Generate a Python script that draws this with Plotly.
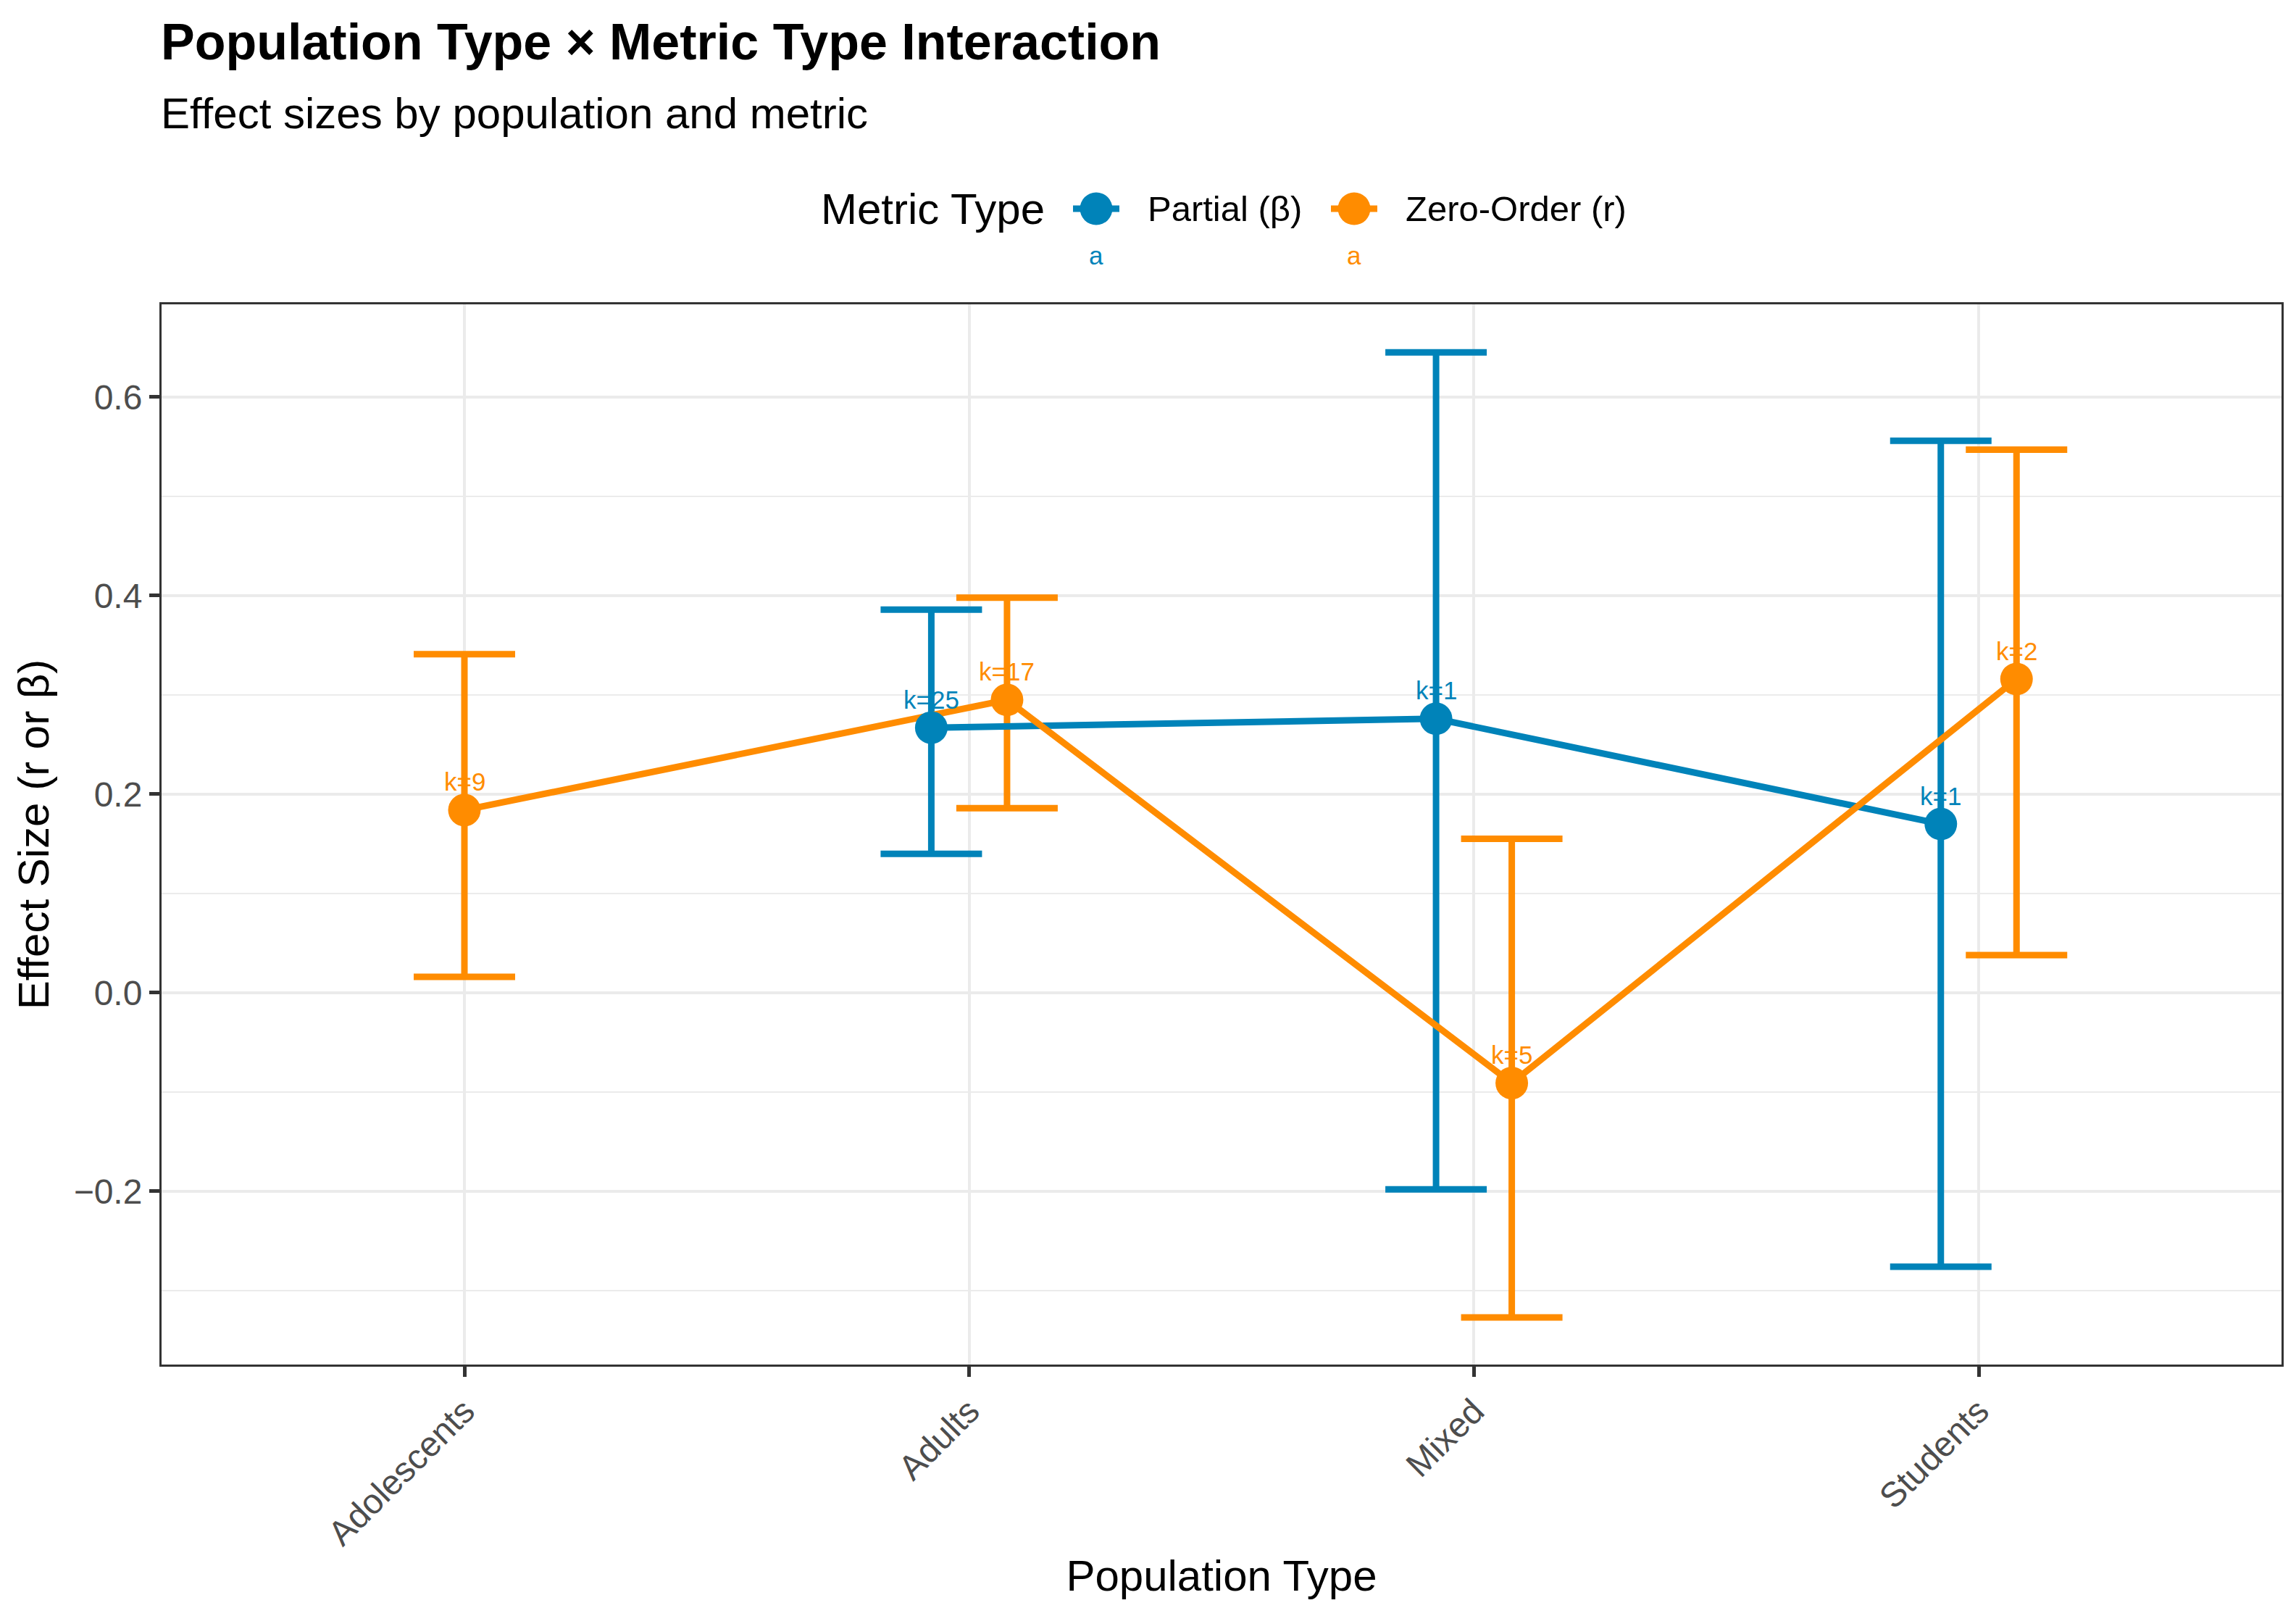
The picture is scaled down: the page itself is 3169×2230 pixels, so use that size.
import plotly.graph_objects as go

# ---------------- data ----------------
populations = ["Adolescents", "Adults", "Mixed", "Students"]
metrics = ["Partial (β)", "Zero-Order (r)"]

# Partial (β)
partial_pop = ["Adults", "Mixed", "Students"]
partial_est = [0.267, 0.276, 0.170]
partial_lo = [0.140, -0.198, -0.276]
partial_hi = [0.386, 0.645, 0.556]
partial_k = [25, 1, 1]

# Zero-Order (r)
zero_pop = ["Adolescents", "Adults", "Mixed", "Students"]
zero_est = [0.184, 0.295, -0.091, 0.316]
zero_lo = [0.016, 0.186, -0.327, 0.038]
zero_hi = [0.341, 0.398, 0.155, 0.547]
zero_k = [9, 17, 5, 2]

y_tickvals = [-0.2, 0.0, 0.2, 0.4, 0.6]
y_ticktext = ["−0.2", "0.0", "0.2", "0.4", "0.6"]
y_minor = [-0.3, -0.1, 0.1, 0.3, 0.5]

COL = {"Partial (β)": "#0083B9", "Zero-Order (r)": "#FF8C00"}
FONT = "Liberation Sans, Arial, sans-serif"
DODGE = 0.075

series = {
    "Partial (β)": (partial_pop, partial_est, partial_lo, partial_hi, partial_k),
    "Zero-Order (r)": (zero_pop, zero_est, zero_lo, zero_hi, zero_k),
}


def xpos(metric, pop):
    groups_here = [m for m in metrics if pop in series[m][0]]
    base = populations.index(pop)
    if len(groups_here) == 1:
        return base
    idx = groups_here.index(metric)
    return base + (-DODGE if idx == 0 else DODGE)


fig = go.Figure()

# error bars (drawn first)
for m in metrics:
    pops, est, lo, hi, k = series[m]
    xs = [xpos(m, p) for p in pops]
    fig.add_trace(go.Scatter(
        x=xs, y=est, mode="markers",
        marker=dict(size=1, opacity=0, color=COL[m]),
        error_y=dict(type="data", symmetric=False,
                     array=[h - e for h, e in zip(hi, est)],
                     arrayminus=[e - l for e, l in zip(est, lo)],
                     color=COL[m], thickness=9, width=70),
        showlegend=False, hoverinfo="skip"))

# lines
for m in metrics:
    pops, est, lo, hi, k = series[m]
    xs = [xpos(m, p) for p in pops]
    fig.add_trace(go.Scatter(x=xs, y=est, mode="lines",
                             line=dict(color=COL[m], width=9),
                             showlegend=False, hoverinfo="skip"))

# points
for m in metrics:
    pops, est, lo, hi, k = series[m]
    xs = [xpos(m, p) for p in pops]
    fig.add_trace(go.Scatter(x=xs, y=est, mode="markers", name=m,
                             marker=dict(color=COL[m], size=45, line=dict(width=0)),
                             showlegend=False))

annotations = []
# k labels
for m in metrics:
    pops, est, lo, hi, k = series[m]
    for p, e, kk in zip(pops, est, k):
        annotations.append(dict(x=xpos(m, p), y=e, xref="x", yref="y",
                                text=f"k={kk}", showarrow=False,
                                yanchor="middle", xanchor="center", yshift=39,
                                font=dict(family=FONT, size=35, color=COL[m])))

# manual legend (large keys like the reference); pixel targets in page coords
L = 223.0
W = 2926.0
T = 420.0
B = 1883.0
H = B - T


def px_x(px):
    return (px - L) / W


def px_y(py):
    return (B - py) / H


leg_y = px_y(288)
annotations.append(dict(x=px_x(1131), y=leg_y, xref="paper", yref="paper",
                        text="Metric Type", showarrow=False, xanchor="left",
                        yanchor="middle", font=dict(family=FONT, size=60, color="black")))
shapes = []
leg_items = [("Partial (β)", 1513, 1582), ("Zero-Order (r)", 1869, 1938)]
for m, cx, tx in leg_items:
    shapes.append(dict(type="line", xref="paper", yref="paper",
                       xsizemode="pixel", xanchor=px_x(cx), x0=-32, x1=32,
                       y0=leg_y, y1=leg_y, line=dict(color=COL[m], width=9)))
    shapes.append(dict(type="circle", xref="paper", yref="paper",
                       xsizemode="pixel", ysizemode="pixel",
                       xanchor=px_x(cx), yanchor=leg_y,
                       x0=-22.5, x1=22.5, y0=-22.5, y1=22.5,
                       fillcolor=COL[m], line=dict(width=0)))
    annotations.append(dict(x=px_x(tx), y=leg_y, xref="paper", yref="paper",
                            text=m, showarrow=False, xanchor="left", yanchor="middle",
                            font=dict(family=FONT, size=49, color="black")))
    annotations.append(dict(x=px_x(cx), y=px_y(353), xref="paper", yref="paper",
                            text="a", showarrow=False, xanchor="center", yanchor="middle",
                            font=dict(family=FONT, size=35, color=COL[m])))

# title & subtitle
annotations.append(dict(x=0, y=px_y(58), xref="paper", yref="paper",
                        text="<b>Population Type × Metric Type Interaction</b>",
                        showarrow=False, xanchor="left", yanchor="middle", xshift=-3,
                        font=dict(family=FONT, size=70, color="black")))
annotations.append(dict(x=0, y=px_y(156), xref="paper", yref="paper",
                        text="Effect sizes by population and metric",
                        showarrow=False, xanchor="left", yanchor="middle", xshift=-3,
                        font=dict(family=FONT, size=60, color="black")))

# page body has an 8px default margin -> compensate
fig.update_layout(
    width=3161, height=2222,
    margin=dict(l=215, r=20, t=412, b=347, autoexpand=False),
    paper_bgcolor="white", plot_bgcolor="white",
    showlegend=False,
    annotations=annotations, shapes=shapes,
    font=dict(family=FONT),
)

fig.update_xaxes(
    range=[-0.6, 3.6], tickmode="array",
    tickvals=list(range(len(populations))), ticktext=populations,
    tickangle=-45, ticks="outside", ticklen=14, tickwidth=5, tickcolor="#333333",
    tickfont=dict(family=FONT, size=48, color="#4D4D4D"),
    showgrid=True, gridcolor="#EBEBEB", gridwidth=4.4, zeroline=False,
    showline=True, linecolor="#333333", linewidth=3, mirror=True,
    title=dict(text="Population Type", font=dict(family=FONT, size=60, color="black"), standoff=12),
)
fig.update_yaxes(
    range=[-0.3745, 0.6934], tickmode="array",
    tickvals=y_tickvals, ticktext=y_ticktext,
    ticks="outside", ticklen=14, tickwidth=5, tickcolor="#333333",
    tickfont=dict(family=FONT, size=48, color="#4D4D4D"),
    showgrid=True, gridcolor="#EBEBEB", gridwidth=4.4, zeroline=False,
    minor=dict(tickvals=y_minor, showgrid=True, gridcolor="#EBEBEB", gridwidth=2.2, ticks=""),
    showline=True, linecolor="#333333", linewidth=3, mirror=True,
    title=dict(text="Effect Size (r or β)", font=dict(family=FONT, size=60, color="black"), standoff=15),
)

fig.write_html("out.html")
